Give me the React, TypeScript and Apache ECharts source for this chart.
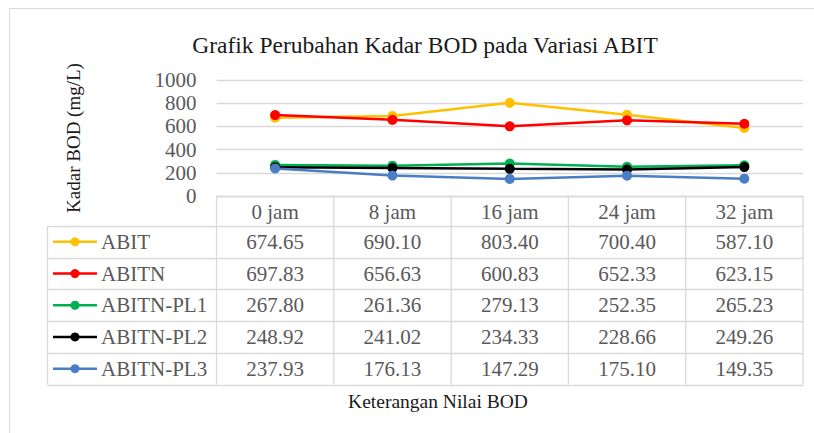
import React, { useEffect, useRef } from "react";
import * as echarts from "echarts";

const categories = ["0 jam", "8 jam", "16 jam", "24 jam", "32 jam"];
const seriesNames = ["ABIT", "ABITN", "ABITN-PL1", "ABITN-PL2", "ABITN-PL3"];
const abit = [674.65, 690.1, 803.4, 700.4, 587.1];
const abitn = [697.83, 656.63, 600.83, 652.33, 623.15];
const abitnPl1 = [267.8, 261.36, 279.13, 252.35, 265.23];
const abitnPl2 = [248.92, 241.02, 234.33, 228.66, 249.26];
const abitnPl3 = [237.93, 176.13, 147.29, 175.1, 149.35];
const seriesColors = ["#FFC000", "#FF0000", "#00B050", "#000000", "#4A7EC4"];
const yMin = 0;
const yMax = 1000;
const yInterval = 200;
const titleText = "Grafik Perubahan Kadar BOD pada Variasi ABIT";
const yAxisName = "Kadar BOD (mg/L)";
const xAxisName = "Keterangan Nilai BOD";

const W = 814;
const H = 433;
const PLOT_LEFT = 216.5;
const PLOT_RIGHT = 803;
const PLOT_TOP = 80;
const PLOT_BOTTOM = 196;
const HEADER_BOTTOM = 226;
const ROW_H = 31.7;
const TABLE_LEFT = 47.5;
const FONT = "'Liberation Serif', 'Times New Roman', serif";
const GRID_COLOR = "#D9D9D9";
const TEXT_COLOR = "#595959";

export default function App() {
  const ref = useRef<HTMLDivElement>(null);
  useEffect(() => {
    if (!ref.current) return;
    const chart = echarts.init(ref.current, null, { renderer: "svg", width: W, height: H });
    const allData = [abit, abitn, abitnPl1, abitnPl2, abitnPl3];
    const colW = (PLOT_RIGHT - PLOT_LEFT) / categories.length;
    const graphics: any[] = [];
    graphics.push({
      type: "rect",
      shape: { x: 9.5, y: 8.5, width: 900, height: 500 },
      style: { fill: "none", stroke: GRID_COLOR, lineWidth: 1 },
      silent: true,
    });
    const tableBottom = HEADER_BOTTOM + ROW_H * seriesNames.length;
    for (let r = 0; r <= seriesNames.length; r++) {
      const y = Math.round(HEADER_BOTTOM + ROW_H * r) + 0.5;
      graphics.push({
        type: "line",
        shape: { x1: TABLE_LEFT, y1: y, x2: PLOT_RIGHT, y2: y },
        style: { stroke: GRID_COLOR, lineWidth: 1.3 },
        silent: true,
      });
    }
    for (let c = 0; c <= categories.length; c++) {
      const x = PLOT_LEFT + colW * c;
      graphics.push({
        type: "line",
        shape: { x1: x, y1: PLOT_BOTTOM, x2: x, y2: tableBottom },
        style: { stroke: GRID_COLOR, lineWidth: 1.3 },
        silent: true,
      });
    }
    graphics.push({
      type: "line",
      shape: { x1: TABLE_LEFT, y1: HEADER_BOTTOM, x2: TABLE_LEFT, y2: tableBottom },
      style: { stroke: GRID_COLOR, lineWidth: 1.3 },
      silent: true,
    });
    seriesNames.forEach((name, r) => {
      const cy = HEADER_BOTTOM + ROW_H * (r + 0.5);
      graphics.push({
        type: "line",
        shape: { x1: 53, y1: cy, x2: 97, y2: cy },
        style: { stroke: seriesColors[r], lineWidth: 2.5 },
        silent: true,
      });
      graphics.push({
        type: "circle",
        shape: { cx: 75, cy, r: 4.5 },
        style: { fill: seriesColors[r] },
        silent: true,
      });
      graphics.push({
        type: "text",
        x: 101,
        y: cy,
        style: {
          text: name,
          fill: TEXT_COLOR,
          font: `21px ${FONT}`,
          textAlign: "left",
          textVerticalAlign: "middle",
        },
        silent: true,
      });
      allData[r].forEach((v, c) => {
        graphics.push({
          type: "text",
          x: PLOT_LEFT + colW * (c + 0.5),
          y: cy,
          style: {
            text: v.toFixed(2),
            fill: TEXT_COLOR,
            font: `21px ${FONT}`,
            textAlign: "center",
            textVerticalAlign: "middle",
          },
          silent: true,
        });
      });
    });
    graphics.push({
      type: "text",
      x: 438,
      y: 401,
      style: {
        text: xAxisName,
        fill: "#1a1a1a",
        font: `19.5px ${FONT}`,
        textAlign: "center",
        textVerticalAlign: "middle",
      },
      silent: true,
    });

    chart.setOption({
      animation: false,
      backgroundColor: "#ffffff",
      title: {
        text: titleText,
        left: 420,
        top: 28,
        textAlign: "center",
        textStyle: { fontFamily: FONT, fontSize: 23.5, fontWeight: "normal", color: "#1a1a1a" },
      },
      grid: {
        left: PLOT_LEFT,
        right: W - PLOT_RIGHT,
        top: PLOT_TOP,
        height: PLOT_BOTTOM - PLOT_TOP,
        containLabel: false,
      },
      xAxis: {
        type: "category",
        data: categories,
        boundaryGap: true,
        axisLine: { show: true, lineStyle: { color: GRID_COLOR, width: 1.3 } },
        axisTick: { show: false },
        axisLabel: { color: TEXT_COLOR, fontFamily: FONT, fontSize: 21, margin: 5 },
      },
      yAxis: {
        type: "value",
        min: yMin,
        max: yMax,
        interval: yInterval,
        name: yAxisName,
        nameLocation: "middle",
        nameRotate: 90,
        nameGap: 134,
        nameTextStyle: { fontFamily: FONT, fontSize: 19, color: "#1a1a1a" },
        axisLine: { show: false },
        axisTick: { show: false },
        splitLine: { lineStyle: { color: GRID_COLOR, width: 1.3 } },
        axisLabel: {
          color: TEXT_COLOR,
          fontFamily: FONT,
          fontSize: 21,
          margin: 20,
          formatter: (v: number) => String(v),
        },
      },
      series: seriesNames.map((name, i) => ({
        name,
        type: "line",
        data: allData[i],
        symbol: "circle",
        symbolSize: 10,
        color: seriesColors[i],
        lineStyle: { width: 2.5, color: seriesColors[i] },
        itemStyle: { color: seriesColors[i] },
      })),
      graphic: graphics,
    });
    return () => chart.dispose();
  }, []);
  return (
    <div
      ref={ref}
      style={{ position: "fixed", left: 0, top: 0, width: W, height: H, background: "#fff" }}
    />
  );
}
